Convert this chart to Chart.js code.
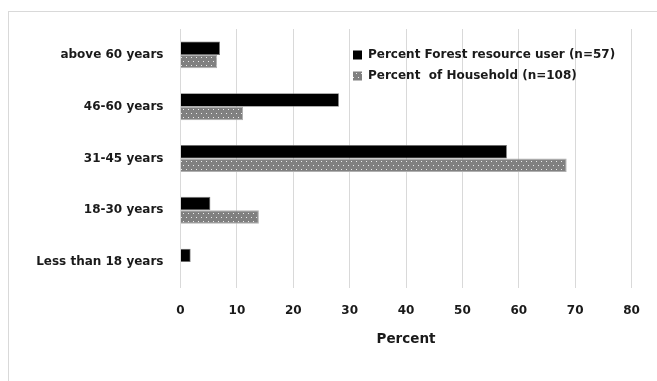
<!DOCTYPE html>
<html>
<head>
<meta charset="utf-8">
<script src="https://cdn.jsdelivr.net/npm/chart.js@4/dist/chart.umd.min.js"></script>
<style>
  html, body { margin: 0; padding: 0; background: #fff; }
  #c { display: block; }
</style>
</head>
<body>
<canvas id="c" width="657" height="381"></canvas>
<script>
const categories = ['above 60 years', '46-60 years', '31-45 years', '18-30 years', 'Less than 18 years'];
const forestUsers = [7.0, 28.1, 57.9, 5.3, 1.8];
const household = [6.5, 11.1, 68.5, 13.9, 0];
const seriesLabels = ['Percent Forest resource user (n=57)', 'Percent  of Household (n=108)'];
const xTicks = [0, 10, 20, 30, 40, 50, 60, 70, 80];
const xTitle = 'Percent';

const FONT = '"DejaVu Sans", sans-serif';
const TEXT = '#1a1a1a';

function makePattern() {
  const c = document.createElement('canvas');
  c.width = 10; c.height = 8;
  const x = c.getContext('2d');
  x.fillStyle = '#808080';
  x.fillRect(0, 0, 10, 8);
  x.fillStyle = '#ebebeb';
  [[1,1],[6,1],[3,5],[8,5]].forEach(p => x.fillRect(p[0], p[1], 1, 1));
  return x.createPattern(c, 'repeat');
}
const dotted = makePattern();

const framePlugin = {
  id: 'frame',
  beforeDraw(chart) {
    const ctx = chart.ctx;
    ctx.save();
    ctx.fillStyle = '#fff';
    ctx.fillRect(0, 0, chart.width, chart.height);
    ctx.strokeStyle = '#d9d9d9';
    ctx.lineWidth = 1;
    ctx.strokeRect(8.5, 11.5, 700, 400);
    ctx.restore();
  }
};

const legendPlugin = {
  id: 'customLegend',
  afterDraw(chart) {
    const ctx = chart.ctx;
    ctx.save();
    ctx.font = 'bold 12px ' + FONT;
    ctx.textBaseline = 'middle';
    chart.data.datasets.forEach((ds, i) => {
      const y = 55 + i * 21;
      ctx.fillStyle = ds.backgroundColor;
      ctx.fillRect(353, y - 4.5, 9, 9);
      ctx.fillStyle = TEXT;
      ctx.fillText(ds.label, 368, y);
    });
    ctx.restore();
  }
};

new Chart(document.getElementById('c'), {
  type: 'bar',
  data: {
    labels: categories,
    datasets: [
      { label: seriesLabels[0], data: forestUsers, backgroundColor: '#000000', borderColor: '#6e6e6e', borderWidth: 0.8 },
      { label: seriesLabels[1], data: household, backgroundColor: dotted, borderColor: '#b0b0b0', borderWidth: 1 }
    ]
  },
  options: {
    indexAxis: 'y',
    responsive: false,
    animation: false,
    devicePixelRatio: 1,
    layout: { padding: { left: 0, top: 29, right: 25.5, bottom: 0 } },
    categoryPercentage: 0.52,
    barPercentage: 1,
    plugins: { legend: { display: false }, tooltip: { enabled: false } },
    scales: {
      x: {
        min: 0, max: 80,
        afterBuildTicks(scale) { scale.ticks = xTicks.map(v => ({ value: v })); },
        afterFit(scale) { scale.height = 93; },
        grid: { color: '#d9d9d9', lineWidth: 1, drawTicks: false },
        border: { display: false },
        ticks: { padding: 16, color: TEXT, font: { family: FONT, size: 12, weight: 'bold' } },
        title: { display: true, text: xTitle, color: TEXT, font: { family: FONT, size: 13.5, weight: 'bold' }, padding: { top: 0, bottom: 33 } }
      },
      y: {
        afterFit(scale) { scale.width = 180.5; },
        grid: { display: false, drawTicks: false },
        border: { display: false },
        ticks: { padding: 17, color: TEXT, font: { family: FONT, size: 12, weight: 'bold' } }
      }
    }
  },
  plugins: [framePlugin, legendPlugin]
});
</script>
</body>
</html>
